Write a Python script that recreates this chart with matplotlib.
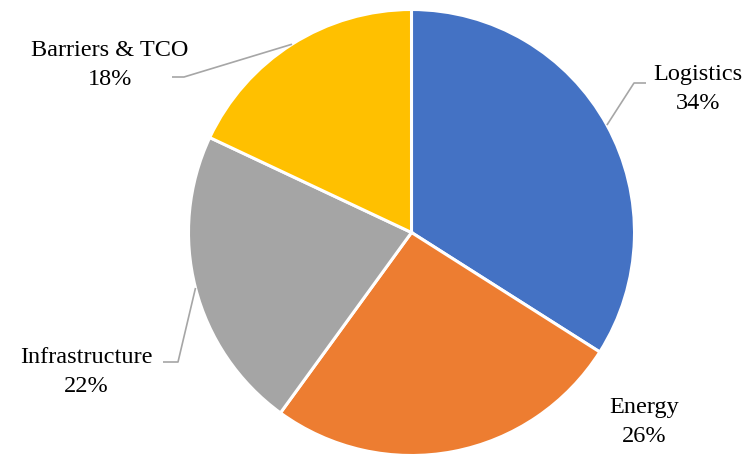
import matplotlib.pyplot as plt
import numpy as np

categories = ['Logistics', 'Energy', 'Infrastructure', 'Barriers & TCO']
shares = [34, 26, 22, 18]
colors = ['#4472C4', '#ED7D31', '#A5A5A5', '#FFC000']

H = 455  # figure height in px, used to flip picture coords to data coords

# label centres (pixels, from top) and leader elbows, per category
label_pos = {
    'Logistics': (698, 89),
    'Energy': (644, 422),
    'Infrastructure': (86, 372),
    'Barriers & TCO': (110, 65),
}
elbows = {
    'Logistics': [(634, 83), (646, 83)],
    'Energy': None,
    'Infrastructure': [(178, 362), (163, 362)],
    'Barriers & TCO': [(184, 77), (172, 77)],
}

fig = plt.figure(figsize=(7.47, 4.55), dpi=100)
ax = fig.add_axes([0, 0, 1, 1])

cx, cy, r = 411.5, H - 232.5, 223
wedges, _ = ax.pie(shares, colors=colors, startangle=90, counterclock=False,
                   center=(cx, cy), radius=r, frame=True,
                   wedgeprops=dict(edgecolor='white', linewidth=2.2))
ax.set_xlim(0, 747)
ax.set_ylim(0, H)
ax.axis('off')

for w, name, v in zip(wedges, categories, shares):
    mid = np.deg2rad((w.theta1 + w.theta2) / 2)
    x0 = cx + r * np.cos(mid)
    y0 = cy + r * np.sin(mid)
    if elbows[name]:
        xs = [x0] + [p[0] for p in elbows[name]]
        ys = [y0] + [H - p[1] for p in elbows[name]]
        ax.plot(xs, ys, color='#A6A6A6', lw=1.2, solid_capstyle='butt')
    tx, ty = label_pos[name]
    ax.text(tx, H - ty, f'{name}\n{v}%', ha='center', va='center',
            fontsize=17.5, family='Liberation Serif', linespacing=1.5)

fig.savefig('out.png')
